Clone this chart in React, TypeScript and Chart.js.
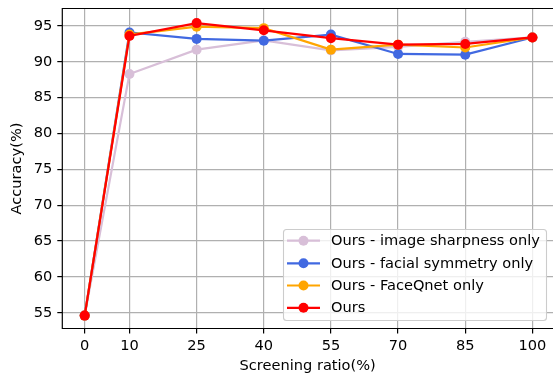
import React, { useEffect, useRef } from "react";
import { Chart, registerables } from "chart.js";

Chart.register(...registerables);

const xValues = [0, 10, 25, 40, 55, 70, 85, 100];
const yTicks = [55, 60, 65, 70, 75, 80, 85, 90, 95];

const sharpnessOnly = [54.6, 88.3, 91.7, 93.0, 91.6, 92.1, 92.8, 93.4];
const symmetryOnly = [54.6, 94.1, 93.2, 92.95, 93.8, 91.1, 91.0, 93.4];
const faceqnetOnly = [54.6, 93.8, 94.9, 94.7, 91.7, 92.4, 92.0, 93.4];
const ours = [54.6, 93.6, 95.4, 94.4, 93.3, 92.4, 92.5, 93.4];

const seriesLabels = [
  "Ours - image sharpness only",
  "Ours - facial symmetry only",
  "Ours - FaceQnet only",
  "Ours",
];
const seriesColors = ["#D8BFD8", "#4169E1", "#FFA500", "#FF0000"];
const seriesData = [sharpnessOnly, symmetryOnly, faceqnetOnly, ours];

const FONT = "'DejaVu Sans', sans-serif";
const FS = 14.6;

const frameAndLegend = {
  id: "frameAndLegend",
  afterDraw(chart: any) {
    const ctx = chart.ctx;
    const a = chart.chartArea;
    ctx.save();
    ctx.strokeStyle = "#000";
    ctx.lineWidth = 1.2;
    ctx.beginPath();
    ctx.moveTo(a.right + 2, a.top);
    ctx.lineTo(a.left, a.top);
    ctx.lineTo(a.left, a.bottom);
    ctx.lineTo(a.right + 2, a.bottom);
    ctx.stroke();

    const bx = 283.5, by = 229.5, bw = 263, bh = 91, r = 3;
    ctx.beginPath();
    ctx.moveTo(bx + r, by);
    ctx.lineTo(bx + bw - r, by);
    ctx.quadraticCurveTo(bx + bw, by, bx + bw, by + r);
    ctx.lineTo(bx + bw, by + bh - r);
    ctx.quadraticCurveTo(bx + bw, by + bh, bx + bw - r, by + bh);
    ctx.lineTo(bx + r, by + bh);
    ctx.quadraticCurveTo(bx, by + bh, bx, by + bh - r);
    ctx.lineTo(bx, by + r);
    ctx.quadraticCurveTo(bx, by, bx + r, by);
    ctx.closePath();
    ctx.fillStyle = "rgba(255,255,255,0.8)";
    ctx.fill();
    ctx.strokeStyle = "#cccccc";
    ctx.lineWidth = 1.1;
    ctx.stroke();

    const rows = [240.7, 263.3, 285.5, 307.8];
    ctx.font = FS + "px " + FONT;
    ctx.textBaseline = "middle";
    ctx.textAlign = "left";
    for (let i = 0; i < seriesLabels.length; i++) {
      const y = rows[i];
      ctx.strokeStyle = seriesColors[i];
      ctx.lineWidth = 2.2;
      ctx.beginPath();
      ctx.moveTo(287, y);
      ctx.lineTo(320, y);
      ctx.stroke();
      ctx.fillStyle = seriesColors[i];
      ctx.beginPath();
      ctx.arc(303.5, y, 5, 0, Math.PI * 2);
      ctx.fill();
      ctx.fillStyle = "#000";
      ctx.fillText(seriesLabels[i], 331, y + 0.5);
    }
    ctx.restore();
  },
};

export default function App() {
  const ref = useRef<HTMLCanvasElement>(null);
  useEffect(() => {
    document.body.style.margin = "0";
    const order = [3, 2, 1, 0];
    const chart = new Chart(ref.current as HTMLCanvasElement, {
      type: "line",
      data: {
        datasets: seriesData.map((d, i) => ({
          label: seriesLabels[i],
          data: d.map((v, j) => ({ x: xValues[j], y: v })),
          borderColor: seriesColors[i],
          backgroundColor: seriesColors[i],
          pointBackgroundColor: seriesColors[i],
          pointBorderWidth: 0,
          pointRadius: 5,
          borderWidth: 2.2,
          tension: 0,
          clip: false,
          order: order[i],
        })),
      },
      options: {
        animation: false,
        responsive: false,
        layout: { autoPadding: false, padding: { top: 8.5, right: 0, left: 0, bottom: 0 } },
        plugins: { legend: { display: false }, tooltip: { enabled: false } },
        scales: {
          x: {
            type: "linear",
            min: -5,
            max: 104.6,
            afterBuildTicks: (s: any) => {
              s.ticks = xValues.map((v) => ({ value: v }));
            },
            afterFit: (s: any) => {
              s.height = 49.5;
              s.paddingLeft = 0;
              s.paddingRight = 0;
              s.paddingTop = 0;
              s.paddingBottom = 0;
            },
            border: { display: false },
            grid: { color: "#b0b0b0", lineWidth: 1.2, tickLength: 5, tickColor: "#000", tickWidth: 1.2 },
            ticks: {
              color: "#000",
              font: { family: FONT, size: FS },
              padding: 4,
              maxRotation: 0,
              autoSkip: false,
              callback: (v: any) => String(v),
            },
            title: {
              display: true,
              text: "Screening ratio(%)",
              color: "#000",
              font: { family: FONT, size: FS },
              padding: { top: 0, bottom: 3 },
            },
          },
          y: {
            type: "linear",
            min: 52.8,
            max: 97.44,
            afterBuildTicks: (s: any) => {
              s.ticks = yTicks.map((v) => ({ value: v }));
            },
            afterFit: (s: any) => {
              s.width = 62.3;
              s.paddingLeft = 0;
              s.paddingRight = 0;
              s.paddingTop = 0;
              s.paddingBottom = 0;
            },
            border: { display: false },
            grid: { color: "#b0b0b0", lineWidth: 1.2, tickLength: 5, tickColor: "#000", tickWidth: 1.2 },
            ticks: {
              color: "#000",
              font: { family: FONT, size: FS },
              padding: 5,
              autoSkip: false,
              callback: (v: any) => String(v),
            },
            title: {
              display: true,
              text: "Accuracy(%)",
              color: "#000",
              font: { family: FONT, size: FS },
              padding: { top: 8, bottom: 0 },
            },
          },
        },
      },
      plugins: [frameAndLegend],
    });
    return () => chart.destroy();
  }, []);
  return (
    <div style={{ width: 553, height: 378 }}>
      <canvas ref={ref} width={553} height={378} style={{ display: "block" }} />
    </div>
  );
}
